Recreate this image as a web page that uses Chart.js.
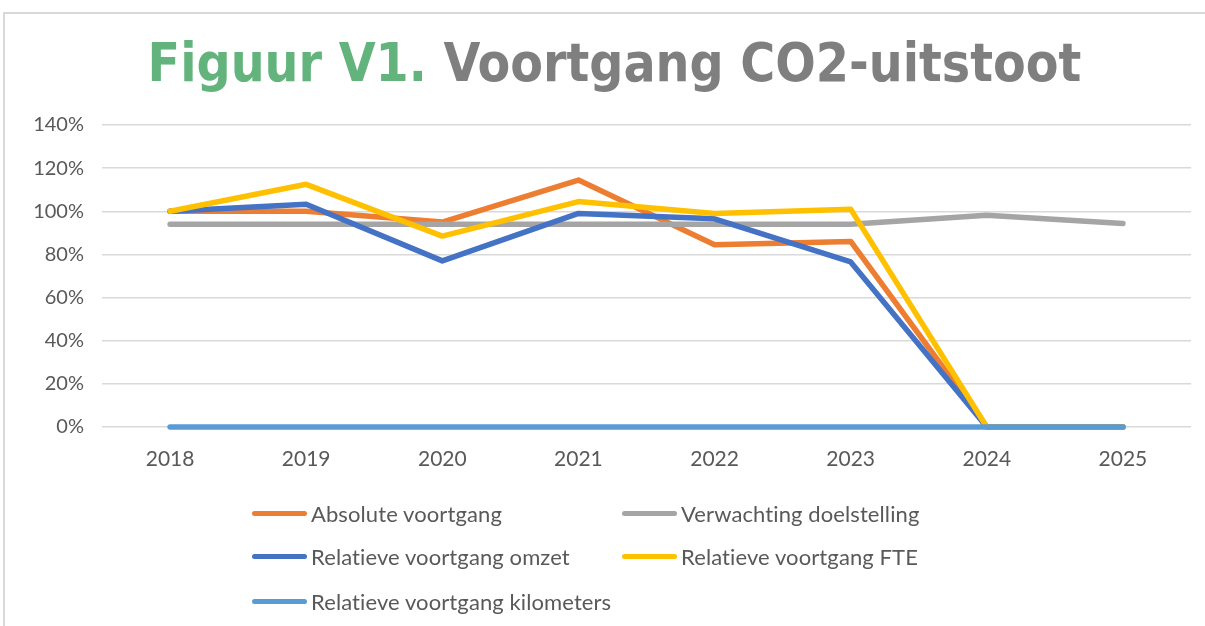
<!DOCTYPE html>
<html><head><meta charset="utf-8">
<script src="https://cdn.jsdelivr.net/npm/chart.js@4.4.1/dist/chart.umd.min.js"></script>
<style>
body{margin:0;background:#fff;}
#wrap{position:relative;width:1205px;height:626px;overflow:hidden;background:#fff;}
#frame{position:absolute;left:3px;top:12px;width:1300px;height:700px;border:2px solid #d9d9d9;box-sizing:border-box;}
#title{position:absolute;left:0;top:36px;width:1229px;text-align:center;font-family:"DejaVu Sans Condensed","DejaVu Sans",sans-serif;font-weight:bold;font-size:53px;line-height:53px;white-space:nowrap;}
#title .a{color:#63b47c;}
#title .b{color:#7f7f7f;}
canvas{position:absolute;left:0;top:0;}
.li{position:absolute;display:flex;align-items:center;height:30px;font-family:Lato,"Open Sans",sans-serif;font-size:22px;color:#595959;white-space:nowrap;font-variant-ligatures:none;font-feature-settings:"liga" 0;letter-spacing:0.1px;}
.li .ln{display:inline-block;width:55px;height:5px;border-radius:3px;margin-right:4px;}
</style>
</head><body>
<div id="wrap">
<div id="frame"></div>
<canvas id="c" width="1205" height="626"></canvas>
<div id="title"><span class="a">Figuur V1.</span> <span class="b">Voortgang CO2-uitstoot</span></div>
<div id="legend"></div>
</div>
<script>
const categories = ['2018','2019','2020','2021','2022','2023','2024','2025'];
const absoluteVoortgang = [100, 100, 95, 114.5, 84.5, 86, 0, 0];
const verwachtingDoelstelling = [94, 94, 94, 94, 94, 94, 98.2, 94.3];
const relatiefOmzet = [100, 103.3, 77, 99, 96.5, 76.5, 0, 0];
const relatiefFTE = [100, 112.5, 88.5, 104.5, 99, 101, 0, 0];
const relatiefKilometers = [0, 0, 0, 0, 0, 0, 0, 0];
const seriesNames = ['Absolute voortgang','Verwachting doelstelling','Relatieve voortgang omzet','Relatieve voortgang FTE','Relatieve voortgang kilometers'];
const seriesColors = ['#ed7d31','#a5a5a5','#4472c4','#ffc000','#5b9bd5'];
const yTickValues = [0,20,40,60,80,100,120,140];

const seriesData = [absoluteVoortgang, verwachtingDoelstelling, relatiefOmzet, relatiefFTE, relatiefKilometers];
const datasets = seriesData.map((d,i)=>({
  label: seriesNames[i],
  data: d,
  borderColor: seriesColors[i],
  backgroundColor: seriesColors[i],
  borderWidth: 5.5,
  pointRadius: 0,
  pointHoverRadius: 0,
  tension: 0,
  fill: false,
  clip: false,
  borderCapStyle: 'round',
  borderJoinStyle: 'round',
  order: seriesData.length - 1 - i
}));

const chart = new Chart(document.getElementById('c'), {
  type: 'line',
  data: { labels: categories, datasets },
  options: {
    responsive: false,
    animation: false,
    layout: { padding: { left: 0, right: 14, top: 125, bottom: 149 } },
    plugins: { legend: { display: false }, title: { display: false }, tooltip: { enabled: false } },
    scales: {
      x: {
        offset: true,
        grid: { display: false, drawTicks: false },
        border: { display: false },
        ticks: { color: '#595959', font: { family: 'Lato', size: 21 }, padding: 20, maxRotation: 0 },
        afterFit: s => { s.height = 50; }
      },
      y: {
        min: 0, max: 140,
        afterBuildTicks: s => { s.ticks = yTickValues.map(v => ({ value: v })); },
        grid: { color: '#d9d9d9', lineWidth: 1.5, drawTicks: false },
        border: { display: false },
        ticks: { color: '#595959', font: { family: 'Lato', size: 20 }, padding: 18, callback: v => v + '%' },
        afterFit: s => { s.width = 102; }
      }
    }
  }
});

// HTML legend built from the chart's datasets
const legendPos = [[252,498],[622,498],[252,541],[622,541],[252,586]];
const legendEl = document.getElementById('legend');
chart.data.datasets.forEach((ds,i)=>{
  const item = document.createElement('div');
  item.className = 'li';
  item.style.left = legendPos[i][0] + 'px';
  item.style.top = legendPos[i][1] + 'px';
  const ln = document.createElement('span');
  ln.className = 'ln';
  ln.style.background = ds.borderColor;
  const tx = document.createElement('span');
  tx.textContent = ds.label;
  item.appendChild(ln); item.appendChild(tx);
  legendEl.appendChild(item);
});
</script>
</body></html>
